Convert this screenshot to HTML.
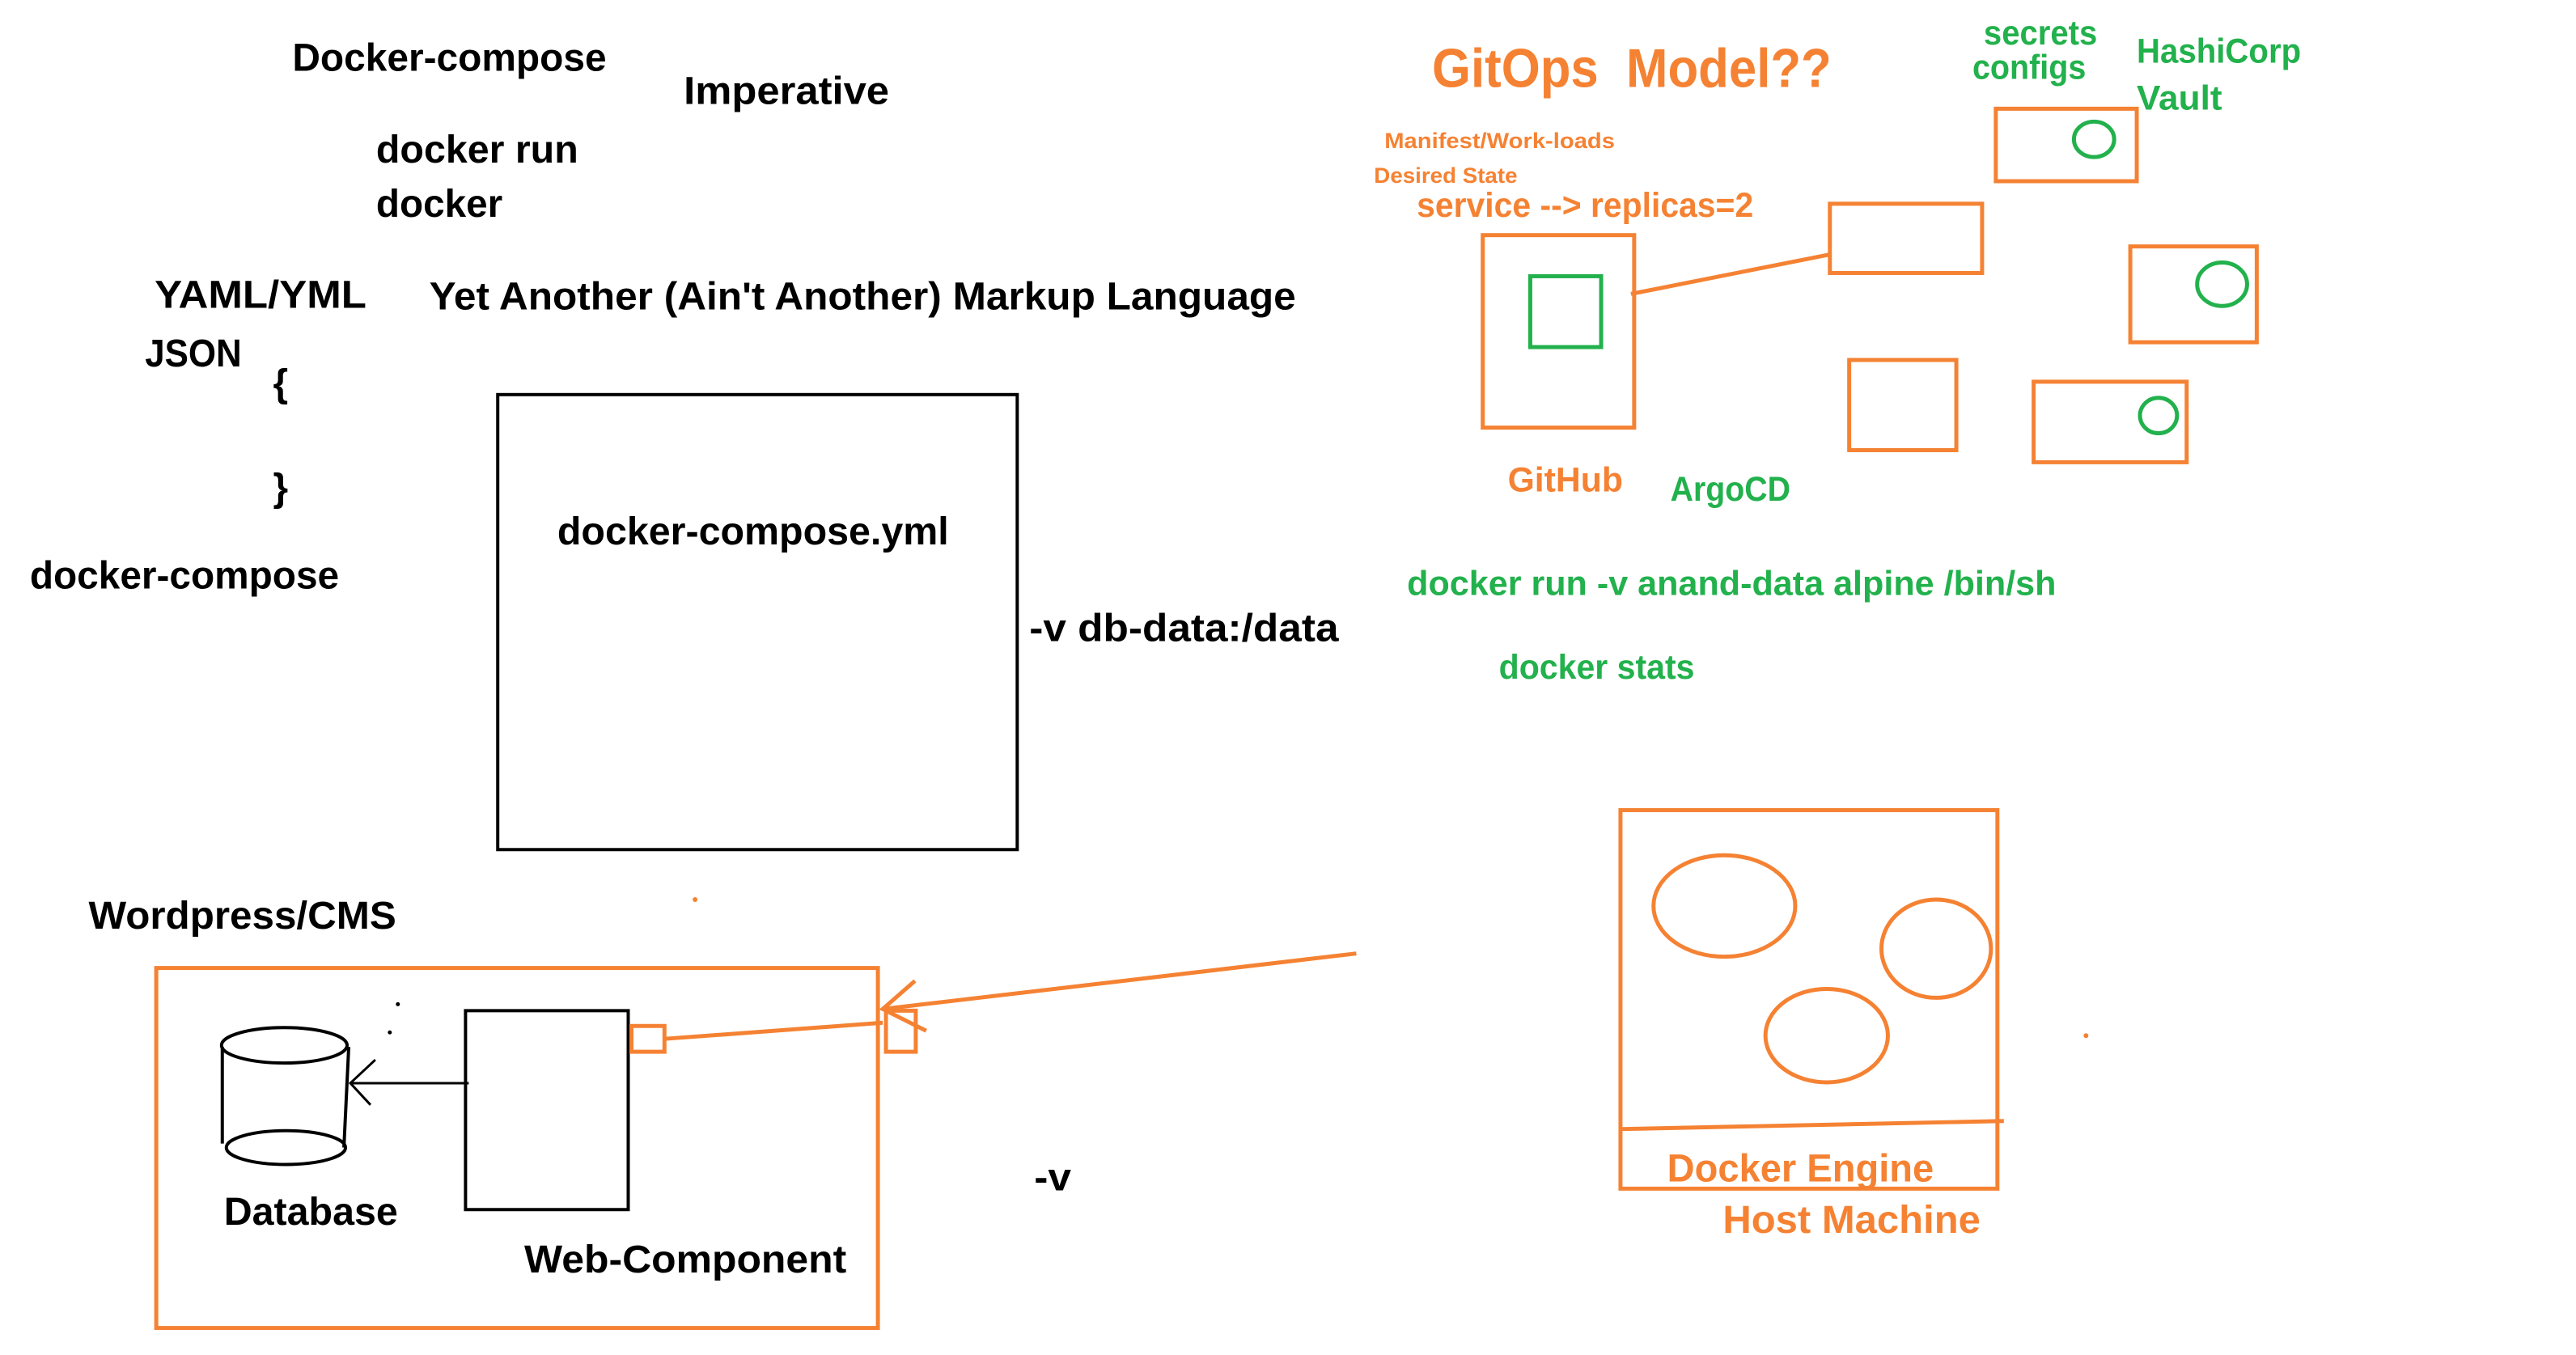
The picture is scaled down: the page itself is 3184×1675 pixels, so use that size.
<!DOCTYPE html>
<html><head><meta charset="utf-8"><style>html,body{margin:0;padding:0;background:#fff}svg{display:block}text{font-family:"Liberation Sans",sans-serif;font-weight:bold}</style></head><body>
<svg width="3184" height="1675" viewBox="0 0 3184 1675" xmlns="http://www.w3.org/2000/svg">
<g transform="scale(0.9955)">
<g fill="#000" font-size="48">
<text x="363" y="88" textLength="390" lengthAdjust="spacingAndGlyphs">Docker-compose</text>
<text x="849" y="129" textLength="255" lengthAdjust="spacingAndGlyphs">Imperative</text>
<text x="467" y="202" textLength="251" lengthAdjust="spacingAndGlyphs">docker run</text>
<text x="467" y="269" textLength="157" lengthAdjust="spacingAndGlyphs">docker</text>
<text x="192" y="382" textLength="263" lengthAdjust="spacingAndGlyphs">YAML/YML</text>
<text x="533" y="384" textLength="1076" lengthAdjust="spacingAndGlyphs">Yet Another (Ain't Another) Markup Language</text>
<text x="180" y="455" textLength="120" lengthAdjust="spacingAndGlyphs">JSON</text>
<text x="339" y="492">{</text>
<text x="339" y="622">}</text>
<text x="37" y="731" textLength="384" lengthAdjust="spacingAndGlyphs">docker-compose</text>
<text x="692" y="676" textLength="486" lengthAdjust="spacingAndGlyphs">docker-compose.yml</text>
<text x="1278" y="796" textLength="384" lengthAdjust="spacingAndGlyphs">-v db-data:/data</text>
<text x="110" y="1153" textLength="382" lengthAdjust="spacingAndGlyphs">Wordpress/CMS</text>
<text x="278" y="1521" textLength="216" lengthAdjust="spacingAndGlyphs">Database</text>
<text x="651" y="1580" textLength="400" lengthAdjust="spacingAndGlyphs">Web-Component</text>
<text x="1284" y="1478" textLength="46" lengthAdjust="spacingAndGlyphs">-v</text>
</g>
<g fill="none" stroke="#000" stroke-width="4">
<rect x="618" y="490" width="645" height="565"/>
<rect x="578" y="1255" width="202" height="247"/>
<ellipse cx="353" cy="1298" rx="78" ry="22"/>
<ellipse cx="355" cy="1425" rx="74" ry="21"/>
<line x1="276" y1="1300" x2="276" y2="1420"/>
<line x1="433" y1="1300" x2="427" y2="1425"/>
<line x1="582" y1="1345" x2="435" y2="1345" stroke-width="3"/>
<polyline points="466,1316 435,1345 460,1372" stroke-width="3"/>
</g>
<circle cx="494" cy="1247" r="2.5" fill="#000"/><circle cx="484" cy="1282" r="2.5" fill="#000"/>
<g fill="none" stroke="#f58233" stroke-width="5">
<rect x="194" y="1202" width="896" height="447"/>
<rect x="784" y="1274" width="41" height="32"/>
<rect x="1100" y="1255" width="37" height="51"/>
<line x1="825" y1="1290" x2="1096" y2="1270"/>
<line x1="1684" y1="1184" x2="1096" y2="1253"/>
<polyline points="1136,1218 1096,1253 1150,1280"/>
<rect x="1841" y="292" width="188" height="239"/>
<line x1="2025" y1="365" x2="2272" y2="316"/>
<rect x="2272" y="253" width="189" height="86"/>
<rect x="2478" y="135" width="175" height="90"/>
<rect x="2645" y="306" width="157" height="119"/>
<rect x="2296" y="447" width="133" height="112"/>
<rect x="2525" y="474" width="190" height="100"/>
<rect x="2012" y="1006" width="468" height="470"/>
<line x1="2014" y1="1402" x2="2488" y2="1392"/>
<ellipse cx="2141" cy="1125" rx="88" ry="63"/>
<ellipse cx="2404" cy="1178" rx="68" ry="61"/>
<ellipse cx="2268" cy="1286" rx="76" ry="58"/>
</g>
<circle cx="863" cy="1117" r="3" fill="#f58233"/><circle cx="2590" cy="1286" r="3" fill="#f58233"/>
<g fill="none" stroke="#22b14c" stroke-width="5">
<rect x="1900" y="343" width="88" height="88"/>
<ellipse cx="2600" cy="173" rx="25" ry="22"/>
<ellipse cx="2759" cy="353" rx="31" ry="27"/>
<ellipse cx="2680" cy="516" rx="23" ry="22"/>
</g>
<g fill="#f58233">
<text x="1778" y="108" font-size="68" textLength="496" lengthAdjust="spacingAndGlyphs">GitOps&#160; Model??</text>
<text x="1719" y="184" font-size="27" textLength="286" lengthAdjust="spacingAndGlyphs">Manifest/Work-loads</text>
<text x="1706" y="227" font-size="27" textLength="178" lengthAdjust="spacingAndGlyphs">Desired State</text>
<text x="1759" y="269" font-size="43" textLength="418" lengthAdjust="spacingAndGlyphs">service --&gt; replicas=2</text>
<text x="1872" y="610" font-size="43" textLength="143" lengthAdjust="spacingAndGlyphs">GitHub</text>
<text x="2070" y="1467" font-size="48" textLength="331" lengthAdjust="spacingAndGlyphs">Docker Engine</text>
<text x="2139" y="1531" font-size="48" textLength="320" lengthAdjust="spacingAndGlyphs">Host Machine</text>
</g>
<g fill="#22b14c" font-size="43">
<text x="2463" y="55" textLength="141" lengthAdjust="spacingAndGlyphs">secrets</text>
<text x="2449" y="98" textLength="141" lengthAdjust="spacingAndGlyphs">configs</text>
<text x="2653" y="78" textLength="204" lengthAdjust="spacingAndGlyphs">HashiCorp</text>
<text x="2653" y="136" textLength="106" lengthAdjust="spacingAndGlyphs">Vault</text>
<text x="2074" y="622" textLength="149" lengthAdjust="spacingAndGlyphs">ArgoCD</text>
<text x="1747" y="739" textLength="806" lengthAdjust="spacingAndGlyphs">docker run -v anand-data alpine /bin/sh</text>
<text x="1861" y="843" textLength="243" lengthAdjust="spacingAndGlyphs">docker stats</text>
</g>
</g>
</svg>
</body></html>
